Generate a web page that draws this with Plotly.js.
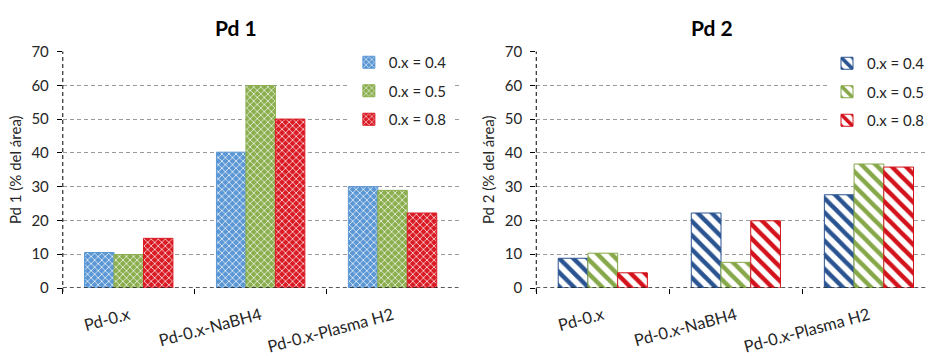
<!DOCTYPE html>
<html>
<head>
<meta charset="utf-8">
<script src="https://cdn.plot.ly/plotly-3.0.1.min.js"></script>
<style>html,body{margin:0;padding:0;background:#fff;}#chart{width:930px;height:356px;}</style>
</head>
<body>
<div id="chart"></div>
<script>
// ---- data ----
const categories = ['Pd-0.x', 'Pd-0.x-NaBH4', 'Pd-0.x-Plasma H2'];
const seriesNames = ['0.x = 0.4', '0.x = 0.5', '0.x = 0.8'];
const pd1_04 = [10.5, 40.2, 30.0];
const pd1_05 = [9.9, 59.9, 28.9];
const pd1_08 = [14.7, 50.0, 22.2];
const pd2_04 = [8.8, 22.2, 27.6];
const pd2_05 = [10.3, 7.6, 36.7];
const pd2_08 = [4.5, 19.9, 35.8];
const yTicks = [0, 10, 20, 30, 40, 50, 60, 70];
const chartTitles = ['Pd 1', 'Pd 2'];
const yTitles = ['Pd 1 (% del área)', 'Pd 2 (% del área)'];

// ---- styles ----
const FONT = 'Lato, "Open Sans", sans-serif';
const leftColors = ['#5B97D4', '#8BAE4E', '#DA1B24'];
const rightColors = ['#2A5491', '#86A849', '#D3121B'];

const traces = [];
[pd1_04, pd1_05, pd1_08].forEach((vals, i) => {
  traces.push({
    type: 'bar', x: categories, y: vals, name: seriesNames[i],
    xaxis: 'x', yaxis: 'y', legend: 'legend', legendgroup: 'L' + i,
    marker: {
      color: leftColors[i],
      line: {color: leftColors[i], width: 1},
      pattern: {shape: 'x', bgcolor: leftColors[i], fgcolor: '#ffffff', fgopacity: 0.85, size: 5, solidity: 0.3}
    },
    hoverinfo: 'x+y+name'
  });
});
[pd2_04, pd2_05, pd2_08].forEach((vals, i) => {
  traces.push({
    type: 'bar', x: categories, y: vals, name: seriesNames[i],
    xaxis: 'x2', yaxis: 'y2', legend: 'legend2', legendgroup: 'R' + i,
    marker: {
      color: rightColors[i],
      line: {color: rightColors[i], width: 1},
      pattern: {shape: '\\', bgcolor: '#ffffff', fgcolor: rightColors[i], size: 10, solidity: 0.45}
    },
    hoverinfo: 'x+y+name'
  });
});

const W = 930, H = 356;
const yDom = [(H - 288) / H, (H - 51.5) / H];
const gridCommon = {
  range: [0, 70], tickvals: yTicks, showgrid: true, gridcolor: '#9a9a9a', griddash: '4px,3px', gridwidth: 1,
  zeroline: false, showline: false, ticks: 'outside', ticklen: 5, tickcolor: '#000', tickwidth: 1,
  ticklabelstandoff: 5, tickfont: {family: FONT, size: 15, color: '#262626'}, automargin: false,
  domain: yDom, fixedrange: true
};
const xCommon = {
  type: 'category', showgrid: false, zeroline: false, showline: false,
  ticks: 'outside', tickson: 'boundaries', ticklen: 5, tickcolor: '#000', tickwidth: 1,
  ticklabelstandoff: 14,
  tickangle: -15, tickfont: {family: FONT, size: 16.5, color: '#262626'}, automargin: false, fixedrange: true
};

const axisLine = (xr, yr) => [
  {type: 'line', xref: xr + ' domain', yref: yr + ' domain', x0: 0, x1: 0, y0: -0.017, y1: 1, line: {color: '#000', width: 1, dash: '4px,3px'}, layer: 'above'},
  {type: 'line', xref: xr + ' domain', yref: yr, x0: 0, x1: 1, y0: 0, y1: 0, line: {color: '#222', width: 1.3, dash: '4px,3px'}, layer: 'above'}
];

const layout = {
  width: W, height: H, margin: {l: 0, r: 0, t: 0, b: 0},
  paper_bgcolor: '#fff', plot_bgcolor: 'rgba(0,0,0,0)',
  barmode: 'group', bargap: 0.33, bargroupgap: 0,
  font: {family: FONT, size: 15, color: '#262626'},
  showlegend: true,
  xaxis: Object.assign({}, xCommon, {domain: [63 / W, 460 / W], range: [-0.5, 2.5], anchor: 'y'}),
  yaxis: Object.assign({}, gridCommon, {anchor: 'x', title: {text: yTitles[0], standoff: 6, font: {family: FONT, size: 15, color: '#262626'}}}),
  xaxis2: Object.assign({}, xCommon, {domain: [538 / W, 1], range: [-0.5, -0.5 + (930 - 538) / 133.5], anchor: 'y2'}),
  yaxis2: Object.assign({}, gridCommon, {anchor: 'x2', title: {text: yTitles[1], standoff: 6, font: {family: FONT, size: 15, color: '#262626'}}}),
  legend: {x: 350 / W, xanchor: 'left', y: 1 - 46 / H, yanchor: 'top', bgcolor: '#fff', tracegroupgap: 6,
           font: {family: FONT, size: 15, color: '#262626'}, itemwidth: 30},
  legend2: {x: 830 / W, xanchor: 'left', y: 1 - 47 / H, yanchor: 'top', bgcolor: '#fff', tracegroupgap: 6,
            font: {family: FONT, size: 15, color: '#262626'}, itemwidth: 30},
  shapes: axisLine('x', 'y').concat(axisLine('x2', 'y2')),
  annotations: [
    {text: '<b>' + chartTitles[0] + '</b>', xref: 'paper', yref: 'paper', x: 237 / W, y: 1 - 27 / H, xanchor: 'center', yanchor: 'middle', showarrow: false, font: {family: FONT, size: 21, color: '#000'}},
    {text: '<b>' + chartTitles[1] + '</b>', xref: 'paper', yref: 'paper', x: 714 / W, y: 1 - 28 / H, xanchor: 'center', yanchor: 'middle', showarrow: false, font: {family: FONT, size: 21, color: '#000'}}
  ]
};

Plotly.newPlot('chart', traces, layout, {displayModeBar: false, staticPlot: true});
</script>
</body>
</html>
